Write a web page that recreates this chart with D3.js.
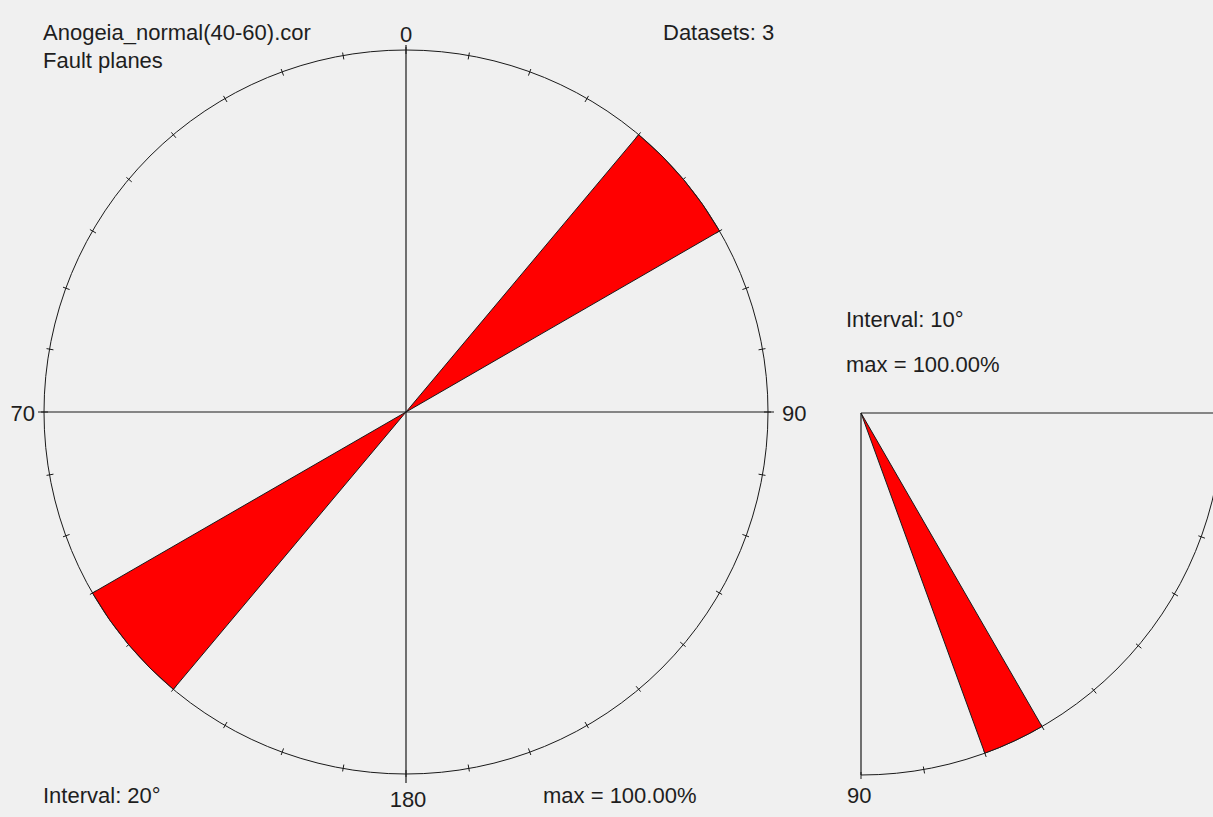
<!DOCTYPE html>
<html>
<head>
<meta charset="utf-8">
<script src="https://cdn.jsdelivr.net/npm/d3@7"></script>
<style>
  html, body { margin: 0; padding: 0; background: #f0f0f0; }
  svg { display: block; }
  text { font-family: "Liberation Sans", Arial, sans-serif; font-size: 22px; fill: #1e1e1e; }
</style>
</head>
<body>
<svg id="chart" width="1213" height="817"></svg>
<script>
// Strike rose: 20° classes over 0–180 (mirrored to 180–360), percent of planes
const strikeBinStart = [0, 20, 40, 60, 80, 100, 120, 140, 160];
const strikePercent  = [0, 0, 100, 0, 0, 0, 0, 0, 0];
const strikeWidth = 20;

// Dip quadrant: 10° classes, percent of planes
const dipBinStart = [0, 10, 20, 30, 40, 50, 60, 70, 80];
const dipPercent  = [0, 0, 0, 0, 0, 0, 100, 0, 0];
const dipWidth = 10;

// Compass labels around the rose (the west label sits at the page edge)
const compassLabels = ["0", "90", "180", "70"];
const tickStepDeg = 10;

const titleLines = ["Anogeia_normal(40-60).cor", "Fault planes"];
const datasetsText = "Datasets: 3";
const roseInterval = "Interval: 20°";
const dipInterval = "Interval: 10°";
const maxText = "max = 100.00%";

const svg = d3.select("#chart");
const rad = d => d * Math.PI / 180;
const ink = "#1a1a1a";

const R = 362;
const rose = { cx: 406, cy: 412 };
const dip = { cx: 861, cy: 413 };

const maxPct = d3.max(strikePercent.concat(dipPercent));
const r = d3.scaleLinear().domain([0, maxPct]).range([0, R]);

// ---------- Strike rose ----------
const gRose = svg.append("g").attr("transform", `translate(${rose.cx},${rose.cy})`);

gRose.append("circle").attr("r", R).attr("fill", "none").attr("stroke", ink).attr("stroke-width", 1);

gRose.selectAll("line.tick")
  .data(d3.range(0, 360, tickStepDeg))
  .join("line")
  .attr("class", "tick")
  .attr("x1", d => (R - 4) * Math.sin(rad(d)))
  .attr("y1", d => -(R - 4) * Math.cos(rad(d)))
  .attr("x2", d => (R + 3) * Math.sin(rad(d)))
  .attr("y2", d => -(R + 3) * Math.cos(rad(d)))
  .attr("stroke", ink).attr("stroke-width", 1);

// Petals: each class and its opposite direction
const petals = [];
strikeBinStart.forEach((s, i) => {
  if (strikePercent[i] > 0) {
    petals.push({ a0: s, a1: s + strikeWidth, v: strikePercent[i] });
    petals.push({ a0: s + 180, a1: s + 180 + strikeWidth, v: strikePercent[i] });
  }
});
const arcGen = d3.arc().innerRadius(0);
gRose.selectAll("path.petal")
  .data(petals)
  .join("path")
  .attr("class", "petal")
  .attr("d", d => arcGen({ outerRadius: r(d.v), startAngle: rad(d.a0), endAngle: rad(d.a1) }))
  .attr("fill", "#ff0000").attr("stroke", ink).attr("stroke-width", 1);

gRose.append("line").attr("x1", -R - 6).attr("x2", R + 6).attr("y1", 0).attr("y2", 0)
  .attr("stroke", ink).attr("stroke-width", 1.2);
gRose.append("line").attr("x1", 0).attr("x2", 0).attr("y1", -R - 5).attr("y2", R + 9)
  .attr("stroke", ink).attr("stroke-width", 1.2);

gRose.append("text").attr("x", 0).attr("y", -R - 8).attr("text-anchor", "middle").text(compassLabels[0]);
gRose.append("text").attr("x", R + 14).attr("y", 9).attr("text-anchor", "start").text(compassLabels[1]);
gRose.append("text").attr("x", 2).attr("y", R + 33).attr("text-anchor", "middle").text(compassLabels[2]);
gRose.append("text").attr("x", -R - 9).attr("y", 9).attr("text-anchor", "end").text(compassLabels[3]);

// ---------- Dip quadrant (0 = horizontal, 90 = vertical) ----------
const gDip = svg.append("g").attr("transform", `translate(${dip.cx},${dip.cy})`);
const dipAngle = d => rad(90 + d); // d3.arc angle for a dip value

const p = d3.path();
p.arc(0, 0, R, 0, Math.PI / 2, false);
gDip.append("path").attr("d", p.toString()).attr("fill", "none").attr("stroke", ink).attr("stroke-width", 1);

gDip.selectAll("line.tick")
  .data(d3.range(0, 91, tickStepDeg))
  .join("line")
  .attr("class", "tick")
  .attr("x1", d => (R - 3) * Math.sin(dipAngle(d)))
  .attr("y1", d => -(R - 3) * Math.cos(dipAngle(d)))
  .attr("x2", d => (R + 4) * Math.sin(dipAngle(d)))
  .attr("y2", d => -(R + 4) * Math.cos(dipAngle(d)))
  .attr("stroke", ink).attr("stroke-width", 1);

gDip.selectAll("path.petal")
  .data(dipBinStart.map((s, i) => ({ a0: s, a1: s + dipWidth, v: dipPercent[i] })).filter(d => d.v > 0))
  .join("path")
  .attr("class", "petal")
  .attr("d", d => arcGen({ outerRadius: r(d.v), startAngle: dipAngle(d.a0), endAngle: dipAngle(d.a1) }))
  .attr("fill", "#ff0000").attr("stroke", ink).attr("stroke-width", 1);

gDip.append("line").attr("x1", 0).attr("x2", 400).attr("y1", 0).attr("y2", 0)
  .attr("stroke", ink).attr("stroke-width", 1.2);
gDip.append("line").attr("x1", 0).attr("x2", 0).attr("y1", 0).attr("y2", R)
  .attr("stroke", ink).attr("stroke-width", 1.2);

gDip.append("text").attr("x", -14).attr("y", R + 28).text("90");

// ---------- Captions ----------
svg.append("text").attr("x", 43).attr("y", 40).text(titleLines[0]);
svg.append("text").attr("x", 43).attr("y", 68).text(titleLines[1]);
svg.append("text").attr("x", 663).attr("y", 40).text(datasetsText);
svg.append("text").attr("x", 43).attr("y", 803).text(roseInterval);
svg.append("text").attr("x", 543).attr("y", 803).text(maxText);
svg.append("text").attr("x", 846).attr("y", 327).text(dipInterval);
svg.append("text").attr("x", 846).attr("y", 372).text(maxText);
</script>
</body>
</html>
